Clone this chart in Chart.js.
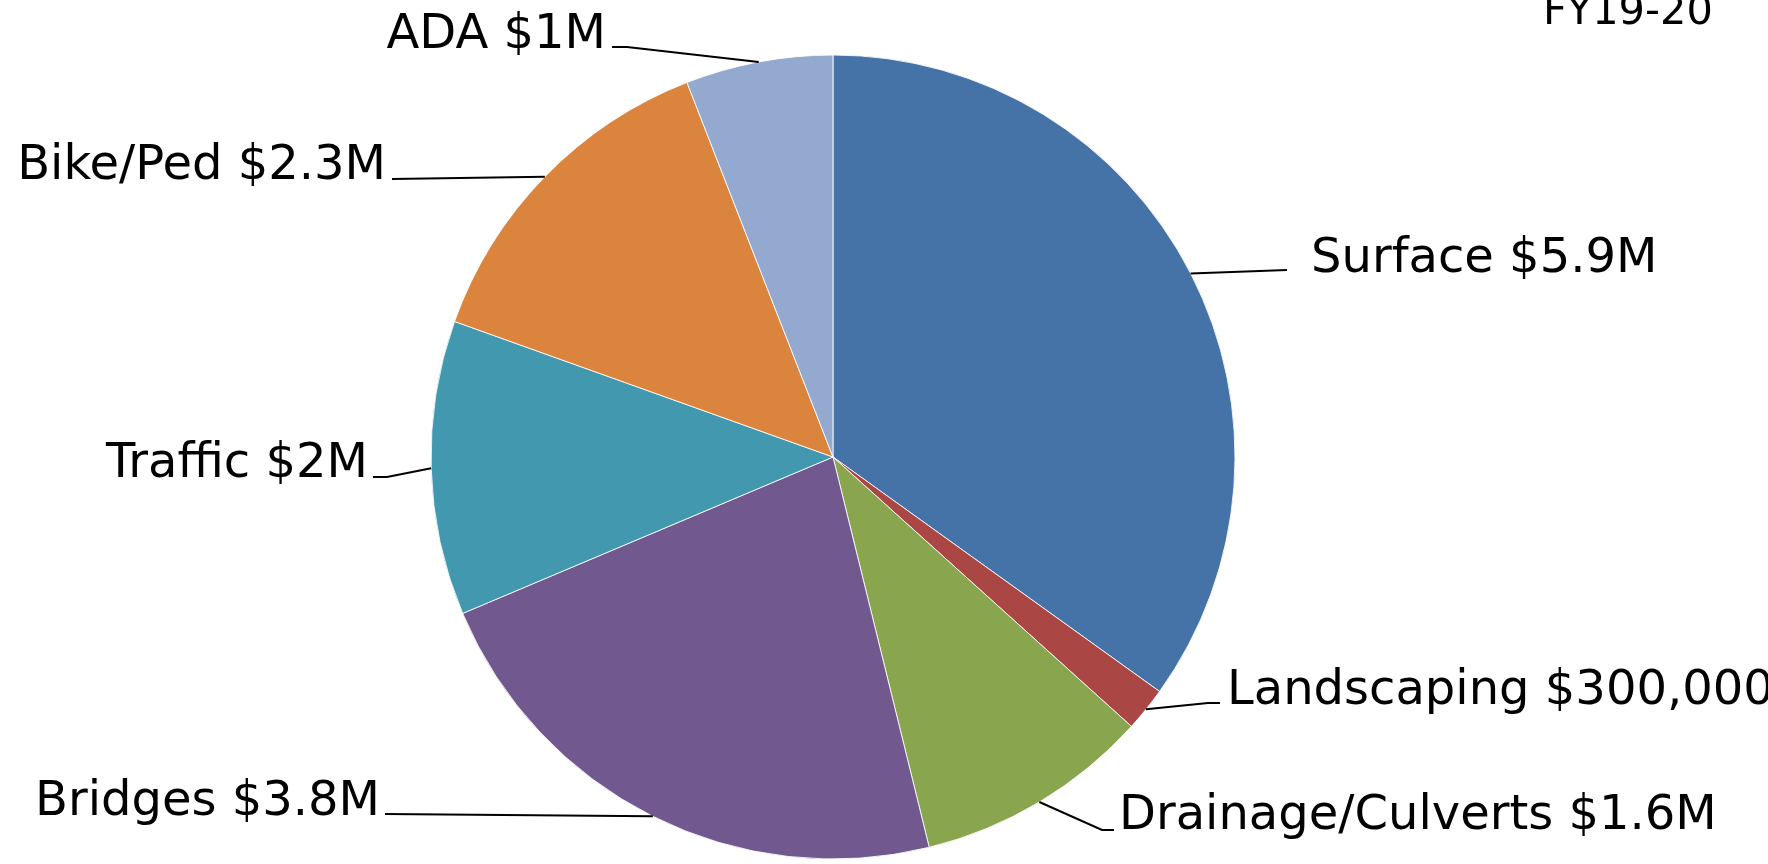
<!DOCTYPE html>
<html>
<head>
<meta charset="utf-8">
<script src="https://cdn.jsdelivr.net/npm/chart.js@4/dist/chart.umd.min.js"></script>
<style>
  html, body { margin: 0; padding: 0; background: #ffffff; }
  #wrap { width: 1768px; height: 864px; position: relative; }
</style>
</head>
<body>
<div id="wrap"><canvas id="c" width="1768" height="864"></canvas></div>
<script>
// ---- data ----
const titleText = 'FY19-20';
const categories = ['Surface', 'Landscaping', 'Drainage/Culverts', 'Bridges', 'Traffic', 'Bike/Ped', 'ADA'];
const valuesMillions = [5.9, 0.3, 1.6, 3.8, 2, 2.3, 1];
const valueLabels = ['$5.9M', '$300,000', '$1.6M', '$3.8M', '$2M', '$2.3M', '$1M'];

// ---- styles / layout (not data) ----
const sliceColors = ['#4572A7', '#AA4643', '#89A54E', '#71588F', '#4198AF', '#DB843D', '#93A9CF'];
const labelFont = '48px "DejaVu Sans", Verdana, sans-serif';
const titleFont = '41.5px "DejaVu Sans", Verdana, sans-serif';
// leader-line bend points and label anchors, in canvas pixels
const labelLayout = [
  { pts: [[1287, 270]],             tx: 1311, ty: 272, align: 'left'  },
  { pts: [[1208, 703], [1220, 703]], tx: 1227, ty: 704, align: 'left'  },
  { pts: [[1102, 830], [1114, 830]], tx: 1119, ty: 829, align: 'left'  },
  { pts: [[385, 814]],              tx: 380,  ty: 815, align: 'right' },
  { pts: [[387, 477], [373, 477]],  tx: 368,  ty: 477, align: 'right' },
  { pts: [[392, 179]],              tx: 386,  ty: 179, align: 'right' },
  { pts: [[627, 47], [612, 47]],    tx: 606,  ty: 48,  align: 'right' }
];

const labelPlugin = {
  id: 'leaderLabels',
  afterDatasetsDraw(chart) {
    const ctx = chart.ctx;
    const meta = chart.getDatasetMeta(0);
    ctx.save();
    ctx.strokeStyle = '#000000';
    ctx.lineWidth = 2;
    ctx.fillStyle = '#000000';
    ctx.font = labelFont;
    ctx.textBaseline = 'alphabetic';
    meta.data.forEach((arc, i) => {
      const p = arc.getProps(['x', 'y', 'startAngle', 'endAngle', 'outerRadius'], true);
      const mid = (p.startAngle + p.endAngle) / 2;
      const sx = p.x + Math.cos(mid) * p.outerRadius;
      const sy = p.y + Math.sin(mid) * p.outerRadius;
      const L = labelLayout[i];
      ctx.beginPath();
      ctx.moveTo(sx, sy);
      L.pts.forEach(pt => ctx.lineTo(pt[0], pt[1]));
      ctx.stroke();
      ctx.textAlign = L.align;
      ctx.fillText(categories[i] + ' ' + valueLabels[i], L.tx, L.ty);
    });
    // partially cut-off title at the top right
    ctx.font = titleFont;
    ctx.textAlign = 'left';
    ctx.fillText(titleText, 1543, 24);
    ctx.restore();
  }
};

new Chart(document.getElementById('c'), {
  type: 'pie',
  data: {
    labels: categories,
    datasets: [{
      data: valuesMillions,
      backgroundColor: sliceColors,
      borderColor: 'rgba(255,255,255,0.85)',
      borderWidth: 1
    }]
  },
  options: {
    responsive: false,
    animation: false,
    layout: { padding: { left: 430.5, right: 532.5, top: 54.5, bottom: 4.5 } },
    plugins: {
      legend: { display: false },
      title: { display: false },
      tooltip: { enabled: false }
    }
  },
  plugins: [labelPlugin]
});
</script>
</body>
</html>
